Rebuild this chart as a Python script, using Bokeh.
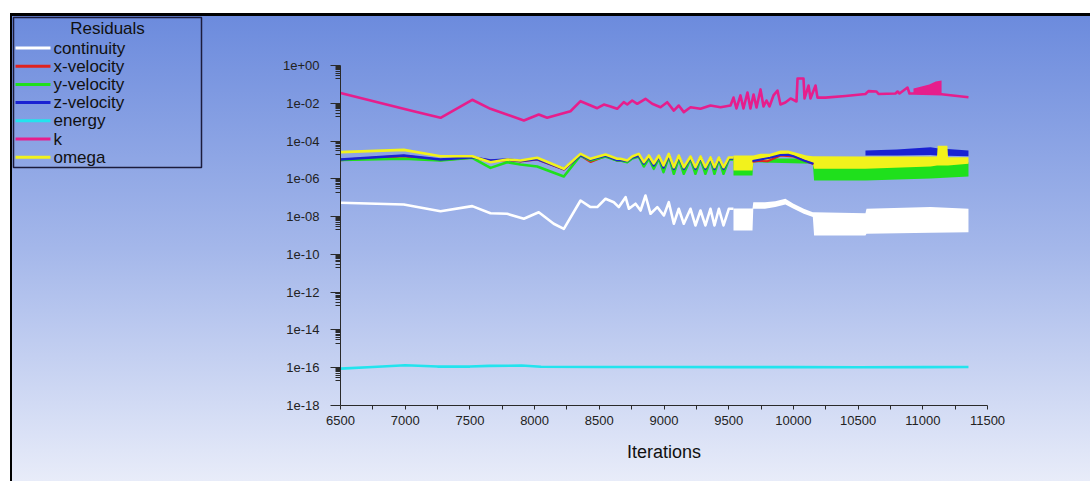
from bokeh.plotting import figure
from bokeh.layouts import row
from bokeh.core.properties import value
from bokeh.models import Range1d, FixedTicker, CustomJSTickFormatter
from bokeh.embed import file_html
from bokeh.resources import INLINE

# ---------------- data ----------------
X_TICKS = [6500, 7000, 7500, 8000, 8500, 9000, 9500, 10000, 10500, 11000, 11500]
X_MINOR = [6750, 7250, 7750, 8250, 8750, 9250, 9750, 10250, 10750, 11250]
Y_TICKS = [1e0, 1e-2, 1e-4, 1e-6, 1e-8, 1e-10, 1e-12, 1e-14, 1e-16, 1e-18]
Y_MINOR = [m * 10.0 ** e for e in [-1, -3, -5, -7, -9, -11, -13, -15, -17] for m in range(2, 10)]

# continuity
cont_it = [6500, 6989, 7273, 7518, 7659, 7788, 7917, 8032, 8148, 8226,
           8355, 8432, 8484, 8548, 8612, 8651, 8703, 8729, 8780, 8819,
           8857, 8896, 8948, 8999, 9037, 9076, 9114, 9153, 9205, 9243,
           9282, 9320, 9359, 9390, 9424, 9460, 9501, 9537]
cont_val = [5.4e-8, 4.4e-8, 1.94e-8, 3.6e-8, 1.52e-8, 1.41e-8, 7.7e-9, 1.71e-8, 4.2e-9, 2.26e-9,
            7.1e-8, 3.2e-8, 3.2e-8, 8.8e-8, 5.8e-8, 3.2e-8, 1.07e-7, 2.6e-8, 4.8e-8, 2.1e-8,
            1.31e-7, 1.41e-8, 3.2e-8, 1.15e-8, 5.8e-8, 4.2e-9, 2.6e-8, 4.2e-9, 2.6e-8, 3.4e-9,
            2.1e-8, 3.4e-9, 2.6e-8, 3.4e-9, 2.6e-8, 3.4e-9, 2.6e-8, 2.6e-8]
cont_band_it = [9537, 9684, 9690, 9780, 9860, 9938, 10001, 10080, 10150, 10160, 10557, 10565, 11060, 11353]
cont_band_hi = [2.7e-8, 2.7e-8, 5.8e-8, 5.8e-8, 6.5e-8, 8.8e-8, 4.8e-8, 2.6e-8, 1.71e-8, 1.71e-8, 1.5e-8, 2.6e-8, 3.2e-8, 2.6e-8]
cont_band_lo = [1.84e-9, 1.84e-9, 2.6e-8, 2.6e-8, 3.2e-8, 4.4e-8, 2.6e-8, 1.4e-8, 9.5e-9, 1.0e-9, 1.0e-9, 1.23e-9, 1.4e-9, 1.5e-9]

# shared iteration samples of the velocity / omega group
vel_it = [6500, 6989, 7273, 7518, 7659, 7788, 7891, 8020, 8226, 8355,
          8432, 8548, 8638, 8664, 8716, 8754, 8805, 8844, 8883, 8921,
          8960, 8996, 9037, 9076, 9114, 9153, 9205, 9243, 9282, 9320,
          9359, 9390, 9424, 9460, 9501, 9537]

# x-velocity
xv_val = [1.0e-5, 1.6e-5, 1.0e-5, 1.35e-5, 9.0e-6, 1.0e-5, 8.5e-6, 1.08e-5, 3.2e-6, 1.75e-5,
          8.0e-6, 1.65e-5, 9.5e-6, 9.5e-6, 8.5e-6, 1.3e-5, 1.65e-5, 6.2e-6, 1.45e-5, 4.9e-6,
          1.45e-5, 3.9e-6, 1.65e-5, 3.3e-6, 1.45e-5, 3.3e-6, 1.3e-5, 3.3e-6, 1.3e-5, 3.3e-6,
          1.15e-5, 3.3e-6, 1.15e-5, 3.3e-6, 1.15e-5, 1.15e-5]
xv_mid_it = [9684, 9746, 9800, 9900, 10001, 10155]
xv_mid_val = [8.0e-6, 9.0e-6, 8.5e-6, 1.7e-5, 1.5e-5, 6.0e-6]

# y-velocity
yv_val = [9.9e-6, 1.15e-5, 9.4e-6, 1.30e-5, 3.8e-6, 7.6e-6, 5.7e-6, 4.5e-6, 1.33e-6, 1.72e-5,
          9.4e-6, 1.52e-5, 9.4e-6, 9.4e-6, 7.6e-6, 1.19e-5, 1.52e-5, 4.5e-6, 1.19e-5, 3.4e-6,
          1.19e-5, 2.25e-6, 1.52e-5, 1.85e-6, 1.19e-5, 1.85e-6, 1.15e-5, 1.85e-6, 1.15e-5, 1.85e-6,
          1.06e-5, 1.85e-6, 1.06e-5, 1.85e-6, 1.06e-5, 1.06e-5]
yv_band_it = [9537, 9684, 9690, 10150, 10160, 10557, 11060, 11353]
yv_band_hi = [1.06e-5, 1.06e-5, 1.2e-5, 1.2e-5, 5.1e-6, 5.1e-6, 6.3e-6, 7.6e-6]
yv_band_lo = [1.5e-6, 1.5e-6, 7.6e-6, 6.3e-6, 8.2e-7, 8.2e-7, 1.04e-6, 1.33e-6]

# z-velocity
zv_val = [1.06e-5, 1.72e-5, 1.06e-5, 1.40e-5, 9.4e-6, 1.06e-5, 8.8e-6, 1.12e-5, 3.3e-6, 1.83e-5,
          1.06e-5, 1.72e-5, 9.9e-6, 9.9e-6, 8.8e-6, 1.35e-5, 1.72e-5, 6.5e-6, 1.52e-5, 5.1e-6,
          1.52e-5, 4.0e-6, 1.72e-5, 3.4e-6, 1.52e-5, 3.4e-6, 1.35e-5, 3.4e-6, 1.35e-5, 3.4e-6,
          1.19e-5, 3.4e-6, 1.19e-5, 3.4e-6, 1.19e-5, 1.19e-5]
zv_mid_it = [9684, 9746, 9820, 9900, 9960, 10001, 10080, 10155]
zv_mid_val = [8.8e-6, 1.06e-5, 1.3e-5, 1.83e-5, 1.9e-5, 1.58e-5, 9.4e-6, 6.3e-6]
zv_band_it = [10557, 10800, 11060, 11110, 11353]
zv_band_hi = [3.2e-5, 3.6e-5, 4.7e-5, 4.2e-5, 3.2e-5]
zv_band_lo = [1.72e-5, 1.72e-5, 1.8e-5, 1.7e-5, 1.58e-5]

# energy
en_it = [6500, 6750, 7000, 7250, 7500, 7650, 7900, 8050, 8500, 9000, 9500, 10000, 10500, 11000, 11353]
en_val = [9.0e-17, 1.1e-16, 1.35e-16, 1.15e-16, 1.15e-16, 1.25e-16, 1.3e-16, 1.12e-16, 1.1e-16,
          1.1e-16, 1.08e-16, 1.08e-16, 1.05e-16, 1.08e-16, 1.1e-16]

# k
k_it = [6500, 7041, 7273, 7518, 7659, 7917, 8032, 8097, 8277, 8355,
        8484, 8535, 8587, 8638, 8689, 8716, 8754, 8793, 8857, 8909,
        8973, 9025, 9076, 9114, 9153, 9205, 9282, 9359, 9437, 9514,
        9537, 9560, 9591, 9614, 9645, 9668, 9692, 9715, 9746, 9769,
        9792, 9815, 9846, 9877, 9900, 9938, 9978, 10024, 10032, 10078,
        10086, 10117, 10132, 10171, 10186, 10248, 10403, 10557, 10580, 10642,
        10658, 10789, 10805, 10820, 10882, 10897, 10928, 11145, 11353]
k_val = [3.5e-2, 4.1e-3, 1.7e-3, 1.53e-2, 5.1e-3, 1.22e-3, 2.55e-3, 1.7e-3, 3.8e-3, 1.29e-2,
         5.5e-3, 8.6e-3, 6.8e-3, 5.1e-3, 1.14e-2, 8.6e-3, 1.40e-2, 9.4e-3, 1.73e-2, 9.4e-3,
         6.2e-3, 1.14e-2, 4.1e-3, 7.6e-3, 3.4e-3, 6.2e-3, 5.1e-3, 7.6e-3, 6.2e-3, 7.6e-3,
         2.0e-2, 5.3e-3, 2.6e-2, 5.3e-3, 3.7e-2, 5.3e-3, 2.9e-2, 6.0e-3, 5.4e-2, 6.8e-3,
         1.40e-2, 6.8e-3, 2.6e-2, 4.7e-2, 8.6e-3, 1.1e-2, 1.8e-2, 1.24e-2, 0.205, 0.205,
         1.8e-2, 8.7e-2, 1.8e-2, 8.7e-2, 2.0e-2, 2.0e-2, 2.43e-2, 3.1e-2, 4.4e-2, 4.2e-2,
         3.1e-2, 3.3e-2, 4.2e-2, 3.3e-2, 6.8e-2, 3.3e-2, 3.3e-2, 3.0e-2, 2.1e-2]
k_band_it = [10928, 10990, 11050, 11100, 11145]
k_band_hi = [6.1e-2, 7.7e-2, 9.9e-2, 0.142, 0.16]
k_band_lo = [3.3e-2, 3.3e-2, 3.2e-2, 3.1e-2, 3.0e-2]

# omega
om_val = [2.6e-5, 3.4e-5, 1.58e-5, 1.58e-5, 7.6e-6, 1.06e-5, 9.4e-6, 1.30e-5, 3.4e-6, 2.1e-5,
          1.15e-5, 1.94e-5, 1.15e-5, 1.15e-5, 9.4e-6, 1.52e-5, 2.1e-5, 7.6e-6, 1.72e-5, 6.5e-6,
          1.72e-5, 5.1e-6, 2.1e-5, 4.1e-6, 1.72e-5, 4.1e-6, 1.52e-5, 4.1e-6, 1.52e-5, 4.1e-6,
          1.35e-5, 4.1e-6, 1.35e-5, 4.1e-6, 1.35e-5, 1.35e-5]
om_band_it = [9537, 9684, 9690, 9746, 9820, 9900, 9960, 10001, 10100, 10150,
              10160, 10557, 11060, 11110, 11115, 11190, 11195, 11353]
om_band_hi = [1.72e-5, 1.72e-5, 1.72e-5, 2.1e-5, 2.1e-5, 3.2e-5, 3.2e-5, 2.6e-5, 1.72e-5, 1.58e-5,
              1.58e-5, 1.52e-5, 1.52e-5, 1.52e-5, 5.7e-5, 5.7e-5, 1.4e-5, 1.4e-5]
om_band_lo = [2.8e-6, 2.8e-6, 7.6e-6, 8.8e-6, 9.4e-6, 1.94e-5, 1.94e-5, 1.4e-5, 7.6e-6, 6.3e-6,
              3.4e-6, 3.4e-6, 4.5e-6, 5.1e-6, 5.1e-6, 5.1e-6, 5.1e-6, 6.3e-6]

LEGEND_TITLE = "Residuals"
LABELS = ["continuity", "x-velocity", "y-velocity", "z-velocity", "energy", "k", "omega"]
COLORS = ["#ffffff", "#e0221e", "#1fe01c", "#1a22d2", "#22e4ee", "#e61e8c", "#f2f21c"]
C = dict(zip(LABELS, COLORS))

FONT = "Liberation Sans"
LEFT_W = 260          # width of the legend pane (pixels)
H = 481

# ---------------- main figure ----------------
p = figure(frame_width=647, frame_height=340, min_border_left=340 - LEFT_W, min_border_right=103,
           min_border_top=65, min_border_bottom=76, y_axis_type="log",
           x_range=Range1d(6500, 11500), y_range=Range1d(1e-18, 1.0),
           output_backend="svg", toolbar_location=None)
p.border_fill_color = None
p.background_fill_color = None
p.outline_line_color = None
p.grid.visible = False
p.frame_align = False

LW = 2.6
p.line(cont_it, cont_val, line_color=C["continuity"], line_width=LW, line_join="round")
p.varea(x=cont_band_it, y1=cont_band_lo, y2=cont_band_hi, fill_color=C["continuity"])
p.line(vel_it, xv_val, line_color=C["x-velocity"], line_width=LW, line_join="round")
p.line(vel_it, yv_val, line_color=C["y-velocity"], line_width=LW, line_join="round")
p.varea(x=yv_band_it, y1=yv_band_lo, y2=yv_band_hi, fill_color=C["y-velocity"])
p.line(vel_it, zv_val, line_color=C["z-velocity"], line_width=LW, line_join="round")
p.varea(x=zv_band_it, y1=zv_band_lo, y2=zv_band_hi, fill_color=C["z-velocity"])
p.line(en_it, en_val, line_color=C["energy"], line_width=LW, line_join="round")
p.line(k_it, k_val, line_color=C["k"], line_width=LW, line_join="round")
p.varea(x=k_band_it, y1=k_band_lo, y2=k_band_hi, fill_color=C["k"])
p.line(vel_it, om_val, line_color=C["omega"], line_width=LW, line_join="round")
p.varea(x=om_band_it, y1=om_band_lo, y2=om_band_hi, fill_color=C["omega"])
p.line(xv_mid_it, xv_mid_val, line_color=C["x-velocity"], line_width=2, line_join="round")
p.line(zv_mid_it, zv_mid_val, line_color=C["z-velocity"], line_width=2, line_join="round")

for ax in (p.xaxis[0], p.yaxis[0]):
    ax.axis_line_color = "#2a2a2a"
    ax.major_tick_line_color = "#2a2a2a"
    ax.minor_tick_line_color = "#2a2a2a"
    ax.major_label_text_font = FONT
    ax.major_label_text_font_size = "13px"
    ax.major_label_text_color = "#222222"
    ax.major_tick_in = 0
    ax.minor_tick_in = 0

p.xaxis.ticker = FixedTicker(ticks=X_TICKS, minor_ticks=X_MINOR)
p.xaxis.major_tick_out = 4
p.xaxis.minor_tick_out = 4
p.xaxis.major_label_standoff = 6
p.xaxis.axis_label = "Iterations"
p.xaxis.axis_label_text_font = FONT
p.xaxis.axis_label_text_font_size = "18px"
p.xaxis.axis_label_text_font_style = "normal"
p.xaxis.axis_label_text_color = "#111111"
p.xaxis.axis_label_standoff = 14

p.yaxis.ticker = FixedTicker(ticks=Y_TICKS, minor_ticks=Y_MINOR)
p.yaxis.formatter = CustomJSTickFormatter(
    code="return tick.toExponential(0).replace(/e([+-])(\\d)$/, 'e$10$2');")
p.yaxis.major_tick_out = 10
p.yaxis.minor_tick_out = 5
p.yaxis.major_label_standoff = 11

# ---------------- legend pane (pixel-like coordinates, y downward) ----------------
q = figure(width=LEFT_W, height=H, min_border=0, title=None,
           x_range=Range1d(0, LEFT_W), y_range=Range1d(H, 0),
           x_axis_location=None, y_axis_location=None,
           output_backend="svg", toolbar_location=None)
q.min_border_left = q.min_border_right = q.min_border_top = q.min_border_bottom = 0
q.border_fill_color = None
q.background_fill_color = None
q.outline_line_color = None
q.grid.visible = False
q.frame_align = False

row_y = [47.5, 65.7, 83.9, 102.1, 120.3, 138.5, 156.7]
q.quad(left=[13], right=[201], top=[17], bottom=[167],
       fill_alpha=0, line_color="#1c1c3c", line_width=1.5)
q.text(x=[107], y=[28], text=[LEGEND_TITLE], text_align="center", text_baseline="middle",
       text_font=value(FONT), text_font_size="17px", text_color="#111111")
q.segment(x0=[15] * len(LABELS), x1=[50] * len(LABELS), y0=row_y, y1=row_y,
          line_color=COLORS, line_width=3)
q.text(x=[53] * len(LABELS), y=row_y, text=LABELS, text_align="left", text_baseline="middle",
       text_font=value(FONT), text_font_size="17px", text_color="#111111")

page = row(q, p, spacing=0)
page.styles = {
    "background": ("linear-gradient(#000,#000) 10px 13px / 2px 468px no-repeat, "
                   "linear-gradient(#000,#000) 10px 13px / 1080px 3px no-repeat, "
                   "linear-gradient(to bottom, #6c8bdd 0%, #a4b7ea 50%, #e8ecf9 100%) 12px 16px / 1078px 465px no-repeat, "
                   "#ffffff"),
}

open("out.html", "w").write(file_html(page, INLINE))
